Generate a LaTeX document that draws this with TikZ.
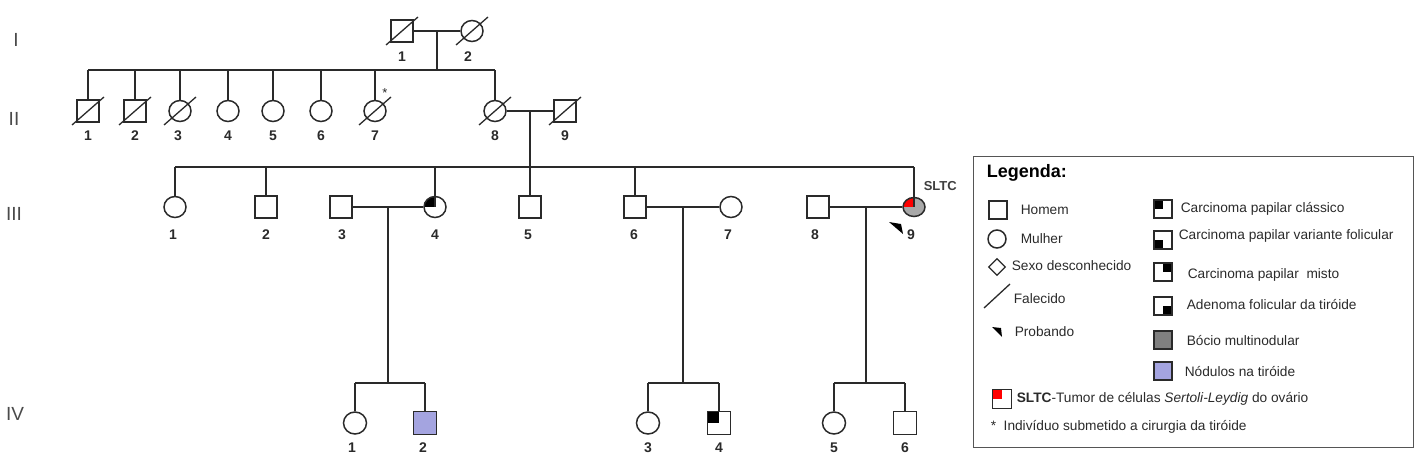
\documentclass[tikz,border=0pt]{standalone}
\usepackage{fontspec}
\setmainfont{Liberation Sans}
\usetikzlibrary{shapes.geometric,calc}
\definecolor{ln}{HTML}{2A2A2A}
\definecolor{lav}{HTML}{A4A4E0}
\definecolor{gbocio}{HTML}{808080}
\definecolor{gsltc}{HTML}{A8A8A8}
\begin{document}
\begin{tikzpicture}[x=1pt,y=-1pt,line width=1.5pt,
  male/.style={draw=ln,rectangle,minimum size=22pt,inner sep=0pt,fill=white,line width=1.5pt},
  female/.style={draw=ln,ellipse,minimum width=22pt,minimum height=21pt,inner sep=0pt,fill=white,line width=1.5pt},
  num/.style={font=\bfseries\fontsize{14}{14}\selectfont,text=ln,inner sep=0pt},
  gen/.style={font=\fontsize{19}{19}\selectfont,text=ln!85,inner sep=0pt},
  link/.style={draw=ln,line width=1.7pt},
  dead/.style={draw=ln,line width=1.3pt},
  leg/.style={font=\fontsize{13.7}{14}\selectfont,text=ln,inner sep=0pt,anchor=west},
  lsq/.style={draw=ln,rectangle,minimum size=18pt,inner sep=0pt,line width=1.3pt,fill=white},
  qtl/.style={path picture={\fill[black] (path picture bounding box.north west) rectangle (path picture bounding box.center);}},
  qbl/.style={path picture={\fill[black] (path picture bounding box.south west) rectangle (path picture bounding box.center);}},
  qtr/.style={path picture={\fill[black] (path picture bounding box.north east) rectangle (path picture bounding box.center);}},
  qbr/.style={path picture={\fill[black] (path picture bounding box.south east) rectangle (path picture bounding box.center);}},
  qred/.style={path picture={\fill[red] (path picture bounding box.north west) rectangle (path picture bounding box.center);}}
]
\useasboundingbox (0,0) rectangle (1415,460);

% generation labels
\node[gen] (gI) at (16,40) {I};
\node[gen] (gII) at (14,119) {II};
\node[gen] (gIII) at (14,214) {III};
\node[gen] (gIV) at (15,414) {IV};

% Generation I
\node[male] (I1) at (402,31) {};
\node[female] (I2) at (472,31) {};
\node[num] (lI1) at (402,57) {1};
\node[num] (lI2) at (468,57) {2};

% Generation II
\node[male] (II1) at (88,111) {};
\node[male] (II2) at (135,111) {};
\node[female] (II3) at (180,111) {};
\node[female] (II4) at (228,111) {};
\node[female] (II5) at (273,111) {};
\node[female] (II6) at (321,111) {};
\node[female] (II7) at (375,111) {};
\node[female] (II8) at (495,111) {};
\node[male] (II9) at (565,111) {};
\node[font=\fontsize{13}{13}\selectfont,text=ln,inner sep=0pt] (star) at (385,93) {*};
\foreach \n/\t/\x in {II1/1/88,II2/2/135,II3/3/178,II4/4/228,II5/5/273,II6/6/321,II7/7/375,II8/8/495,II9/9/565}
  \node[num] (l\n) at (\x,136) {\t};

% Generation III
\node[female] (III1) at (175,207) {};
\node[male] (III2) at (266,207) {};
\node[male] (III3) at (341,207) {};
\node[female,qtl] (III4) at (435,207) {};
\node[male] (III5) at (530,207) {};
\node[male] (III6) at (635,207) {};
\node[female] (III7) at (731,207) {};
\node[male] (III8) at (818,207) {};
\node[female,fill=gsltc,qred,minimum height=19pt] (III9) at (914,207) {};
\foreach \n/\t/\x in {III1/1/173,III2/2/266,III3/3/342,III4/4/435,III5/5/528,III6/6/634,III7/7/728,III8/8/815,III9/9/911}
  \node[num] (l\n) at (\x,235) {\t};
\node[font=\bfseries\fontsize{13}{13}\selectfont,text=ln!90,inner sep=0pt,anchor=west] (sltc) at (923,186) {SLTC};
\fill[black] ($(III9.center)+(-25,15)$) -- ($(III9.center)+(-13,17)$) -- ($(III9.center)+(-11,27)$) -- cycle;

% Generation IV
\node[female,minimum width=23pt,minimum height=22pt] (IV1) at (355,423) {};
\node[male,fill=lav,minimum size=23pt] (IV2) at (425,423) {};
\node[female,minimum width=23pt,minimum height=22pt] (IV3) at (648,423) {};
\node[male,qtl,minimum size=23pt] (IV4) at (719,423) {};
\node[female,minimum width=23pt,minimum height=22pt] (IV5) at (834,423) {};
\node[male,minimum size=23pt] (IV6) at (905,423) {};
\foreach \n/\t/\x in {IV1/1/352,IV2/2/423,IV3/3/648,IV4/4/719,IV5/5/834,IV6/6/905}
  \node[num] (l\n) at (\x,448) {\t};

% deceased
\foreach \n in {I1,I2,II1,II2,II3,II7,II8,II9}
  \draw[dead] ($(\n.center)+(-16,14)$) -- ($(\n.center)+(16,-14)$);

% connectors
\coordinate (sib2) at (0,70);
\coordinate (sib3) at (0,167);
\coordinate (sib4) at (0,383);
\coordinate (m1) at ($(I1)!0.5!(I2)$);
\coordinate (m2) at ($(II8)!0.5!(II9)$);
\coordinate (m3) at ($(III3)!0.5!(III4)$);
\coordinate (m4) at ($(III6)!0.5!(III7)$);
\coordinate (m5) at ($(III8)!0.5!(III9)$);

\draw[link] (I1) -- (I2);
\draw[link] (m1) -- (m1 |- sib2);
\draw[link] (II1 |- sib2) -- (II8 |- sib2);
\foreach \n in {II1,II2,II3,II4,II5,II6,II7,II8}
  \draw[link] (\n |- sib2) -- (\n.north);

\draw[link] (II8) -- (II9);
\draw[link] (m2) -- (m2 |- sib3);
\draw[link] (III1 |- sib3) -- (III9 |- sib3);
\foreach \n in {III1,III2,III5,III6}
  \draw[link] (\n |- sib3) -- (\n.north);
\draw[link] (III4 |- sib3) -- (III4.center);
\draw[link] (III9 |- sib3) -- (III9.center);

\draw[link] (III3) -- (III4);
\draw[link] (III6) -- (III7);
\draw[link] (III8) -- (III9);
\draw[link] (m3) -- (m3 |- sib4);
\draw[link] (m4) -- (m4 |- sib4);
\draw[link] (m5) -- (m5 |- sib4);
\draw[link] (IV1 |- sib4) -- (IV2 |- sib4);
\draw[link] (IV3 |- sib4) -- (IV4 |- sib4);
\draw[link] (IV5 |- sib4) -- (IV6 |- sib4);
\foreach \n in {IV1,IV2,IV3,IV4,IV5,IV6}
  \draw[link] (\n |- sib4) -- (\n.north);

% Legend
\node[draw=ln!80,line width=1.2pt,rectangle,minimum width=440pt,minimum height=291pt,anchor=north west,inner sep=0pt] (legbox) at (973,156) {};
\node[font=\bfseries\fontsize{18}{18}\selectfont,text=black,inner sep=0pt,anchor=west] (legt) at (986,173) {Legenda:};
\node[lsq] (kM) at (998,210) {};
\node[leg] (tM) at (1020,210) {Homem};
\node[draw=ln,ellipse,minimum size=18pt,inner sep=0pt,line width=1.5pt] (kF) at (997,239) {};
\node[leg] (tF) at (1020,239) {Mulher};
\node[draw=ln,diamond,minimum size=17pt,inner sep=0pt,line width=1.2pt] (kU) at (997,267) {};
\node[leg] (tU) at (1011,266) {Sexo desconhecido};
\coordinate (kD1) at (984,308);
\coordinate (kD2) at (1010,284);
\draw[dead] (kD1) -- (kD2);
\node[leg] (tD) at (1013,299) {Falecido};
\fill[black] (992,327) -- (1001,328) -- (1002,337) -- cycle;
\node[leg] (tP) at (1014,332) {Probando};

\node[lsq,qtl] (k1) at (1163,209) {};
\node[leg] (t1) at (1180,209) {Carcinoma papilar clássico};
\node[lsq,qbl] (k2) at (1163,240) {};
\node[leg] (t2) at (1178,236) {Carcinoma papilar variante folicular};
\node[lsq,qtr] (k3) at (1163,272) {};
\node[leg] (t3) at (1187,275) {Carcinoma papilar\ \ misto};
\node[lsq,qbr] (k4) at (1163,306) {};
\node[leg] (t4) at (1186,305) {Adenoma folicular da tiróide};
\node[lsq,fill=gbocio] (k5) at (1163,340) {};
\node[leg] (t5) at (1186,341) {Bócio multinodular};
\node[lsq,fill=lav] (k6) at (1163,371) {};
\node[leg] (t6) at (1184,372) {Nódulos na tiróide};
\node[lsq,qred,minimum size=19pt] (k7) at (1002,399) {};
\node[leg] (t7) at (1016,399) {\textbf{SLTC}-Tumor de células \textit{Sertoli-Leydig} do ovário};
\node[leg] (t8) at (990,427) {*\ \ Indivíduo submetido a cirurgia da tiróide};
\end{tikzpicture}
\end{document}
